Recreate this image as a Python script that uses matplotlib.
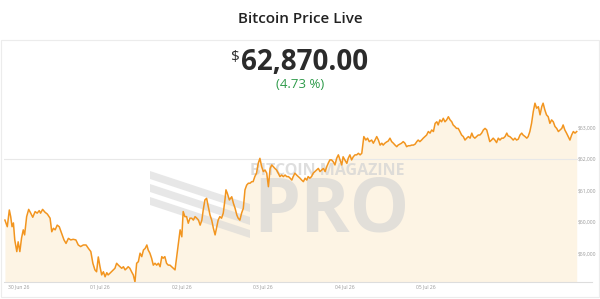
import pandas as pd
import matplotlib.pyplot as plt
import matplotlib.dates as mdates
from matplotlib.patches import Rectangle, Polygon
from matplotlib.ticker import FuncFormatter

# half-hourly BTC price, hours counted from 30 Jun 00:00
hours = [-4.0, -3.3, -2.7, -2.3, -1.9, -1.5, -1.1, -0.5, -0.1, 0.4, 0.9, 1.4, 1.8, 2.4, 3.0, 3.6, 4.2, 4.9,
         5.5, 6.1, 6.5, 7.1, 7.8, 8.5, 9.3, 9.8, 10.3, 10.8, 11.4, 12.0, 12.7, 13.4, 14.0, 14.7, 15.4, 16.1,
         16.9, 17.6, 18.3, 19.1, 19.9, 20.6, 21.3, 21.9, 22.5, 23.0, 23.5,
         24.0, 24.5, 25.0, 25.5, 26.0, 26.4, 26.9, 27.9, 28.4, 28.9, 29.4, 29.9, 30.4, 30.9, 31.4, 31.9, 32.3,
         32.8, 33.3, 33.8, 34.3, 34.8, 35.3, 35.8, 36.3, 36.8, 37.3, 37.8, 38.2, 38.7, 39.2, 39.7, 40.2, 40.7,
         41.2, 41.7, 42.2, 42.6, 43.1, 43.6, 44.1, 44.6, 45.1, 45.6, 46.1, 46.6, 47.1, 47.6, 48.1, 48.5, 49.0,
         49.5, 50.0, 50.5, 51.0, 51.5, 52.0, 52.5, 53.0, 53.5, 54.0, 54.4, 54.9, 55.4, 55.9, 56.4, 56.9, 57.4,
         57.9, 58.4, 58.8, 59.3, 59.8, 60.3, 60.8, 61.1, 61.5, 62.1, 62.8, 63.3, 63.8, 64.3, 64.7, 65.2, 65.7,
         66.2, 66.7, 67.2, 67.7, 68.2, 68.7, 69.1, 69.6, 70.1, 70.6, 71.1, 71.6, 72.1, 72.6, 73.1, 73.6, 74.1,
         74.6, 75.0, 75.5, 76.0, 76.5, 77.0, 77.5, 78.0, 78.5, 79.0, 79.5, 80.0, 80.5, 80.9, 81.4, 81.9, 82.4,
         82.9, 83.4, 83.9, 84.4, 84.9, 85.3, 85.8, 86.3, 86.8, 87.3, 87.8, 88.3, 88.8, 89.3, 89.8, 90.3, 90.8,
         91.2, 91.7, 92.2, 92.7, 93.2, 93.7, 94.2, 94.7, 95.2, 95.6, 96.1, 96.7, 97.1, 97.6, 98.1, 98.6, 99.1,
         99.6, 100.1, 100.6, 101.1, 101.4, 101.7, 102.3, 102.8, 103.3, 104.0, 104.5, 105.0, 105.5, 106.0,
         106.5, 107.0, 107.4, 107.9, 108.4, 108.9, 109.4, 109.9, 110.4, 110.9, 111.4, 111.8, 112.3, 112.8,
         113.3, 113.8, 114.3, 114.8, 115.3, 115.8, 116.3, 116.8, 117.3, 117.7, 118.2, 118.7, 119.2, 119.7,
         120.2, 120.7, 121.2, 121.7, 122.2, 122.7, 123.2, 123.6, 124.1, 124.6, 125.1, 125.6, 126.1, 126.6,
         127.1, 127.6, 128.0, 128.5, 129.0, 129.5, 130.0, 130.5, 131.0, 131.5, 132.0, 132.5, 133.0, 133.5,
         133.9, 134.4, 134.9, 135.4, 135.9, 136.4, 136.9, 137.4, 137.9, 138.3, 138.8, 139.3, 139.8, 140.3,
         140.8, 141.3, 141.8, 142.3, 142.8, 143.3, 143.8, 144.2, 144.7, 145.2, 145.7, 146.2, 146.7, 147.2,
         147.7, 148.2, 148.6, 149.2, 149.7, 150.1, 150.6, 151.1, 151.6, 152.1, 152.6, 153.1, 153.6, 154.1,
         154.5, 155.0, 155.5, 156.0, 156.5, 157.0, 157.5, 158.0, 158.5, 159.0, 159.5, 160.0, 160.4, 160.9,
         161.4, 161.9, 162.4, 162.9, 163.4, 163.9, 164.4]

price = [60060, 59850, 60380, 60170, 59850, 59970, 59430, 59060, 59370, 59060, 59490, 59750, 59590, 60170,
         60400, 60280, 60150, 60330, 60280, 60360, 60280, 60400, 60310, 60250, 60120, 59690, 59800, 59750,
         59900, 59850, 59640, 59430, 59320, 59480, 59430, 59450, 59430, 59270, 59220, 59270, 59270, 59160,
         59060, 58690, 58480, 58420, 58890,
         58580, 58320, 58420, 58260, 58390, 58320, 58370, 58480, 58530, 58690, 58630, 58580, 58530, 58580,
         58480, 58530, 58580, 58530, 58420, 58320, 58100, 58690, 58740, 59010, 58900, 59110, 59160, 59270,
         59110, 59010, 58850, 58630, 58690, 58630, 58690, 58580, 58900, 58850, 58900, 58690, 58630, 58630,
         58580, 58530, 58480, 58900, 59320, 59750, 59530, 60330, 60170, 60170, 59960,
         60120, 60120, 60060, 60170, 60120, 60060, 59900, 60060, 60380, 60700, 60750, 60490, 60220, 60060,
         59800, 59590, 59850, 60060, 60170, 60120, 60280, 60700, 61020, 60910, 60700, 60800, 60590, 60430,
         60220, 60120, 60060, 60280, 60430, 61020, 61170, 61230, 61230, 61280, 61280, 61440, 61550, 61860,
         62020, 61760, 61600, 61650, 61550, 61120, 61700, 61810,
         61760, 61700, 61650, 61550, 61440, 61490, 61440, 61490, 61440, 61440, 61390, 61330, 61440, 61550,
         61490, 61440, 61390, 61330, 61280, 61390, 61330, 61440, 61390, 61440, 61550, 61600, 61650, 61700,
         61600, 61650, 61700, 61600, 61760, 61860, 61970, 61970, 61910, 61810, 62020, 62130, 61970, 61810,
         62070, 61970, 61860, 62020, 62130, 61970, 62070, 62130,
         62130, 62180, 62130, 62180, 62440, 62710, 62600, 62660, 62550, 62600, 62500, 62600, 62710, 62600,
         62440, 62500, 62440, 62500, 62540, 62570, 62660, 62550, 62500, 62440, 62390, 62440, 62470, 62500,
         62550, 62500, 62390, 62420, 62420, 62440, 62440, 62470, 62550, 62600, 62550, 62600, 62660, 62710,
         62760, 62870, 62820, 62920, 62870, 63130, 63180, 63080,
         63240, 63180, 63290, 63180, 63240, 63340, 63240, 63180, 63080, 63030, 62970, 62970, 62870, 62760,
         62710, 62600, 62660, 62710, 62660, 62820, 62710, 62660, 62710, 62760, 62760, 62820, 62920, 62970,
         62920, 62760, 62550, 62600, 62660, 62600, 62520, 62660, 62600, 62660, 62660, 62710, 62820, 62730,
         62710, 62660, 62600, 62660, 62600, 62630, 62760, 62820,
         62760, 62710, 62660, 62710, 62870, 63130, 63500, 63770, 63610, 63660, 63400, 63660, 63770, 63560,
         63400, 63340, 63130, 63240, 63180, 63030, 62970, 62870, 62920, 62970, 63080, 62920, 62820, 62710,
         62600, 62760, 62870, 62820, 62870]

assert len(hours) == len(price)

y_ticks = [59000, 60000, 61000, 62000, 63000]
x_tick_days = ["2026-06-30", "2026-07-01", "2026-07-02", "2026-07-03", "2026-07-04", "2026-07-05"]
title = "Bitcoin Price Live"
last_price = "62,870.00"
change = "(4.73 %)"

orange = "#f2951f"
mark_grey = "#d4d4d4"
start = pd.Timestamp("2026-06-30")
times = start + pd.to_timedelta(hours, unit="h")

plt.rcParams["font.family"] = ["Open Sans", "DejaVu Sans"]

fig = plt.figure(figsize=(6, 2.99), dpi=100)
# card outline
fig.patches.append(Rectangle((0.002, 0.007), 0.996, 0.859, transform=fig.transFigure,
                             fill=False, ec="#ececec", lw=0.8))

fig.text(0.5, 0.936, title, ha="center", va="center", fontsize=11, fontweight="semibold", color="#222222")
fig.text(0.401, 0.766, last_price, ha="left", va="baseline", fontsize=20, fontweight="bold", color="#2b2b2b")
fig.text(0.399, 0.832, "$", ha="right", va="top", fontsize=11, color="#2b2b2b")
fig.text(0.5, 0.716, change, ha="center", va="center", fontsize=9.5, color="#2e9b4a")

ax = fig.add_axes([4 / 600, 1 - 282 / 299, 588 / 600, 187 / 299])
ymin = min(price) - 5
ax.set_ylim(ymin, 64030)
ax.set_xlim(start - pd.Timedelta(hours=4.27), start + pd.Timedelta(hours=168.9))

ax.fill_between(times, price, ymin, color="#fdf4e4", lw=0, zorder=0.5)
ax.plot(times, price, color=orange, lw=1.1, zorder=3)
ax.axhline(62000, xmax=0.975, color="#e8e8e8", lw=0.8, zorder=0.8)

# watermark: striped logo + wordmark
for top in [176, 189, 202]:
    band = [(150, top - 5), (250, top + 28), (250, top + 36), (150, top + 3)]
    ax.add_patch(Polygon([(x / 600, 1 - y / 299) for x, y in band], closed=True,
                         transform=fig.transFigure, color=mark_grey, alpha=0.55, lw=0, zorder=1))
ax.text(250 / 600, 1 - 175 / 299, "BITCOIN MAGAZINE", transform=fig.transFigure, fontsize=11.5,
        fontweight="bold", color=mark_grey, alpha=0.75, zorder=1)
ax.text(253 / 600, 1 - 232 / 299, "PRO", transform=fig.transFigure, fontsize=54,
        fontweight="bold", color=mark_grey, alpha=0.65, zorder=1)

ax.set_xticks(pd.to_datetime(x_tick_days))
ax.xaxis.set_major_formatter(mdates.DateFormatter("%d %b %y"))
ax.set_yticks(y_ticks)
ax.yaxis.set_major_formatter(FuncFormatter(lambda v, p: f"${v:,.0f}"))
ax.yaxis.tick_right()
ax.tick_params(axis="y", length=0, pad=-10, labelsize=3.6, labelcolor="#999999")
ax.tick_params(axis="x", length=0, pad=2, labelsize=3.6, labelcolor="#999999")

for s in ["top", "left", "right"]:
    ax.spines[s].set_visible(False)
ax.spines["bottom"].set_color("#dddddd")
ax.spines["bottom"].set_linewidth(0.8)
ax.patch.set_alpha(0)

fig.savefig("out.png", dpi=100)
